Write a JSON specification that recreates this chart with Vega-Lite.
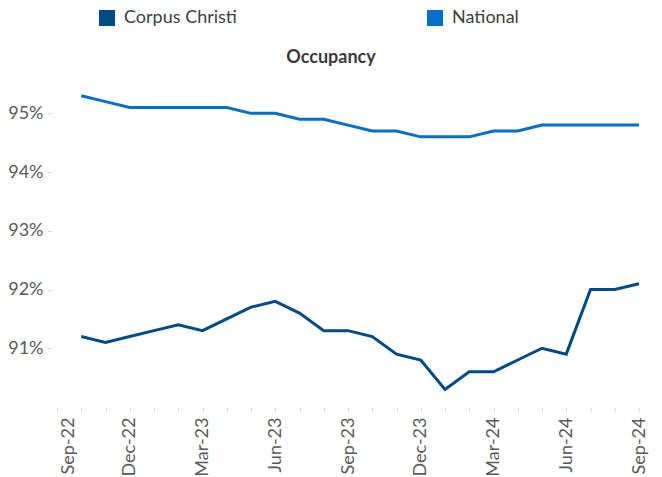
{
  "$schema": "https://vega.github.io/schema/vega-lite/v6.json",
  "autosize": "none",
  "width": 582,
  "height": 323,
  "padding": {"left": 57, "top": 84, "right": 23, "bottom": 70},
  "background": "white",
  "config": {
    "font": "Lato",
    "view": {"stroke": null},
    "title": {"font": "Lato", "fontSize": 18, "fontWeight": "bold", "color": "#3a3a3a"}
  },
  "title": {"text": "Occupancy", "anchor": "middle", "dx": -17, "offset": -58},
  "data": {
    "values": [
      {"month": "Oct-22", "series": "Corpus Christi", "value": 0.912},
      {"month": "Nov-22", "series": "Corpus Christi", "value": 0.911},
      {"month": "Dec-22", "series": "Corpus Christi", "value": 0.912},
      {"month": "Jan-23", "series": "Corpus Christi", "value": 0.913},
      {"month": "Feb-23", "series": "Corpus Christi", "value": 0.914},
      {"month": "Mar-23", "series": "Corpus Christi", "value": 0.913},
      {"month": "Apr-23", "series": "Corpus Christi", "value": 0.915},
      {"month": "May-23", "series": "Corpus Christi", "value": 0.917},
      {"month": "Jun-23", "series": "Corpus Christi", "value": 0.918},
      {"month": "Jul-23", "series": "Corpus Christi", "value": 0.916},
      {"month": "Aug-23", "series": "Corpus Christi", "value": 0.913},
      {"month": "Sep-23", "series": "Corpus Christi", "value": 0.913},
      {"month": "Oct-23", "series": "Corpus Christi", "value": 0.912},
      {"month": "Nov-23", "series": "Corpus Christi", "value": 0.909},
      {"month": "Dec-23", "series": "Corpus Christi", "value": 0.908},
      {"month": "Jan-24", "series": "Corpus Christi", "value": 0.903},
      {"month": "Feb-24", "series": "Corpus Christi", "value": 0.906},
      {"month": "Mar-24", "series": "Corpus Christi", "value": 0.906},
      {"month": "Apr-24", "series": "Corpus Christi", "value": 0.908},
      {"month": "May-24", "series": "Corpus Christi", "value": 0.910},
      {"month": "Jun-24", "series": "Corpus Christi", "value": 0.909},
      {"month": "Jul-24", "series": "Corpus Christi", "value": 0.920},
      {"month": "Aug-24", "series": "Corpus Christi", "value": 0.920},
      {"month": "Sep-24", "series": "Corpus Christi", "value": 0.921},
      {"month": "Oct-22", "series": "National", "value": 0.953},
      {"month": "Nov-22", "series": "National", "value": 0.952},
      {"month": "Dec-22", "series": "National", "value": 0.951},
      {"month": "Jan-23", "series": "National", "value": 0.951},
      {"month": "Feb-23", "series": "National", "value": 0.951},
      {"month": "Mar-23", "series": "National", "value": 0.951},
      {"month": "Apr-23", "series": "National", "value": 0.951},
      {"month": "May-23", "series": "National", "value": 0.950},
      {"month": "Jun-23", "series": "National", "value": 0.950},
      {"month": "Jul-23", "series": "National", "value": 0.949},
      {"month": "Aug-23", "series": "National", "value": 0.949},
      {"month": "Sep-23", "series": "National", "value": 0.948},
      {"month": "Oct-23", "series": "National", "value": 0.947},
      {"month": "Nov-23", "series": "National", "value": 0.947},
      {"month": "Dec-23", "series": "National", "value": 0.946},
      {"month": "Jan-24", "series": "National", "value": 0.946},
      {"month": "Feb-24", "series": "National", "value": 0.946},
      {"month": "Mar-24", "series": "National", "value": 0.947},
      {"month": "Apr-24", "series": "National", "value": 0.947},
      {"month": "May-24", "series": "National", "value": 0.948},
      {"month": "Jun-24", "series": "National", "value": 0.948},
      {"month": "Jul-24", "series": "National", "value": 0.948},
      {"month": "Aug-24", "series": "National", "value": 0.948},
      {"month": "Sep-24", "series": "National", "value": 0.948}
    ]
  },
  "mark": {"type": "line", "strokeWidth": 3},
  "encoding": {
    "x": {
      "field": "month",
      "type": "ordinal",
      "scale": {
        "type": "point",
        "padding": 0,
        "domain": ["Sep-22","Oct-22","Nov-22","Dec-22","Jan-23","Feb-23","Mar-23","Apr-23","May-23","Jun-23","Jul-23","Aug-23","Sep-23","Oct-23","Nov-23","Dec-23","Jan-24","Feb-24","Mar-24","Apr-24","May-24","Jun-24","Jul-24","Aug-24","Sep-24"]
      },
      "axis": {
        "title": null,
        "domain": false,
        "ticks": true,
        "tickColor": "#d9d9d9",
        "tickSize": 4,
        "labelAngle": -90,
        "labelPadding": 6,
        "labelFont": "Lato",
        "labelFontSize": 18,
        "labelColor": "#595959",
        "labelOverlap": false,
        "labelOffset": {"condition": {"test": "datum.value === 'Sep-22'", "value": 11}, "value": 0},
        "labelExpr": "test(/^(Sep|Dec|Mar|Jun)/, datum.value) ? datum.value : ''"
      }
    },
    "y": {
      "field": "value",
      "type": "quantitative",
      "scale": {"domain": [0.90, 0.955], "nice": false, "zero": false},
      "axis": {
        "title": null,
        "domain": false,
        "grid": false,
        "values": [0.91, 0.92, 0.93, 0.94, 0.95],
        "format": ".0%",
        "tickColor": "#d9d9d9",
        "tickSize": 5,
        "offset": 5,
        "labelPadding": 4,
        "labelFont": "Lato",
        "labelFontSize": 18,
        "labelColor": "#595959"
      }
    },
    "color": {
      "field": "series",
      "type": "nominal",
      "scale": {"domain": ["Corpus Christi", "National"], "range": ["#004B87", "#0070CC"]},
      "legend": {
        "title": null,
        "orient": "none",
        "direction": "horizontal",
        "legendX": 41,
        "legendY": -75,
        "padding": 0,
        "symbolType": "square",
        "symbolSize": 256,
        "symbolStrokeWidth": 0,
        "symbolOffset": 0,
        "labelOffset": 8,
        "labelFont": "Lato",
        "labelFontSize": 18,
        "labelColor": "#404040",
        "columnPadding": 189,
        "encode": {"symbols": {"update": {"fill": {"scale": "color", "field": "value"}, "fillOpacity": {"value": 1}, "strokeWidth": {"value": 0}}}}
      }
    }
  }
}
